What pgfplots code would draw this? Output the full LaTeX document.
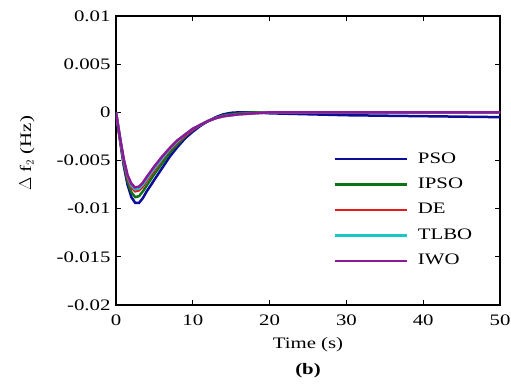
\documentclass[border=0pt]{standalone}
\usepackage{pgfplots}
\pgfplotsset{compat=1.18}
\usepackage{fontspec}
\setmainfont[FakeStretch=1.3]{Liberation Serif}
\definecolor{cPSO}{rgb}{0.05,0.05,0.6}
\definecolor{cIPSO}{rgb}{0.05,0.45,0.1}
\definecolor{cDE}{rgb}{0.9,0.1,0.1}
\definecolor{cTLBO}{rgb}{0.1,0.78,0.78}
\definecolor{cIWO}{rgb}{0.55,0.1,0.6}
\begin{document}
\fontsize{16bp}{19bp}\selectfont
\begin{tikzpicture}
\begin{axis}[
  scale only axis, width=384bp, height=289bp,
  xmin=0, xmax=50, ymin=-0.02, ymax=0.01,
  xtick={0,10,20,30,40,50},
  xticklabels={0,10,20,30,40,50},
  ytick={-0.02,-0.015,-0.01,-0.005,0,0.005,0.01},
  yticklabels={-0.02,-0.015,-0.01,-0.005,0,0.005,0.01},
  tick align=inside, major tick length=5bp,
  axis line style={line width=1.2bp}, tick style={line width=0.8bp, black},
  scaled y ticks=false,
  tick label style={font=\fontsize{16bp}{19bp}\selectfont},
  xticklabel style={yshift=-4bp},
  xlabel={Time (s)},
  xlabel style={at={(axis description cs:0.5,-0.138)}, anchor=center, font=\fontsize{16bp}{19bp}\selectfont},
  ylabel={$\Delta$ f$_{\scriptstyle 2}$ (Hz)},
  ylabel style={at={(axis description cs:-0.232,0.525)}, anchor=center, font=\fontsize{16bp}{19bp}\selectfont},
  legend style={draw=none, fill=none, at={(0.558,0.542)}, anchor=north west,
    font=\fontsize{16bp}{19bp}\selectfont, row sep=8.5bp},
  legend cell align=left,
  legend image code/.code={\draw[#1] (0bp,0bp) -- (72bp,0bp); \path (80bp,0bp);},
  every axis plot/.append style={line width=2.5bp},
]
\addplot[cPSO] coordinates {(0,0) (0.5,-0.0028) (1,-0.0055) (1.5,-0.0075) (2,-0.0088) (2.5,-0.0094) (3,-0.0094) (3.5,-0.0089) (4,-0.0082) (5,-0.0070) (6,-0.0058) (7,-0.0046) (8,-0.0036) (9,-0.0027) (10,-0.0020) (11,-0.0014) (12,-0.0009) (13,-0.0005) (14,-0.0002) (15,-0.00005) (16,0) (18,0) (20,-0.0001) (25,-0.0002) (30,-0.0003) (40,-0.0004) (50,-0.0005)};
\addplot[cIPSO] coordinates {(0,0) (0.5,-0.0027) (1,-0.0052) (1.5,-0.0071) (2,-0.0083) (2.5,-0.0088) (3,-0.0087) (3.5,-0.0082) (4,-0.0076) (5,-0.0064) (6,-0.0053) (7,-0.0042) (8,-0.0033) (9,-0.0025) (10,-0.0018) (11,-0.0013) (12,-0.0009) (13,-0.0006) (14,-0.0003) (16,-0.0001) (18,0) (20,0) (50,0)};
\addplot[cDE] coordinates {(0,0) (0.5,-0.0026) (1,-0.0050) (1.5,-0.0068) (2,-0.0078) (2.5,-0.0082) (3,-0.0081) (3.5,-0.0077) (4,-0.0071) (5,-0.0060) (6,-0.0049) (7,-0.0039) (8,-0.0031) (9,-0.0024) (10,-0.0018) (11,-0.0013) (12,-0.0009) (13,-0.0006) (14,-0.0004) (16,-0.0002) (18,-0.0001) (20,0) (50,0)};
\addplot[cTLBO] coordinates {(0,0) (0.5,-0.0025) (1,-0.0049) (1.5,-0.0066) (2,-0.0076) (2.5,-0.0080) (3,-0.0079) (3.5,-0.0075) (4,-0.0069) (5,-0.0058) (6,-0.0048) (7,-0.0038) (8,-0.0030) (9,-0.0023) (10,-0.0017) (11,-0.0013) (12,-0.0009) (13,-0.0006) (14,-0.0004) (16,-0.0002) (18,-0.0001) (20,0) (50,0)};
\addplot[cIWO] coordinates {(0,0) (0.5,-0.0025) (1,-0.0048) (1.5,-0.0065) (2,-0.0074) (2.5,-0.0078) (3,-0.0077) (3.5,-0.0073) (4,-0.0067) (5,-0.0056) (6,-0.0046) (7,-0.0037) (8,-0.0029) (9,-0.0023) (10,-0.0017) (11,-0.0013) (12,-0.0009) (13,-0.0006) (14,-0.0004) (16,-0.0002) (18,-0.0001) (20,0) (50,0)};
\legend{PSO,IPSO,DE,TLBO,IWO}
\coordinate (SW) at (rel axis cs:0,0);
\coordinate (NE) at (rel axis cs:1,1);
\coordinate (BC) at (rel axis cs:0.5,0);
\end{axis}
\node[font=\bfseries\fontsize{16bp}{19bp}\selectfont] at ([yshift=-66bp]BC) {(b)};
\pgfresetboundingbox
\path ([shift={(-116bp,-79bp)}]SW) rectangle ([shift={(11bp,16bp)}]NE);
\end{tikzpicture}
\end{document}
